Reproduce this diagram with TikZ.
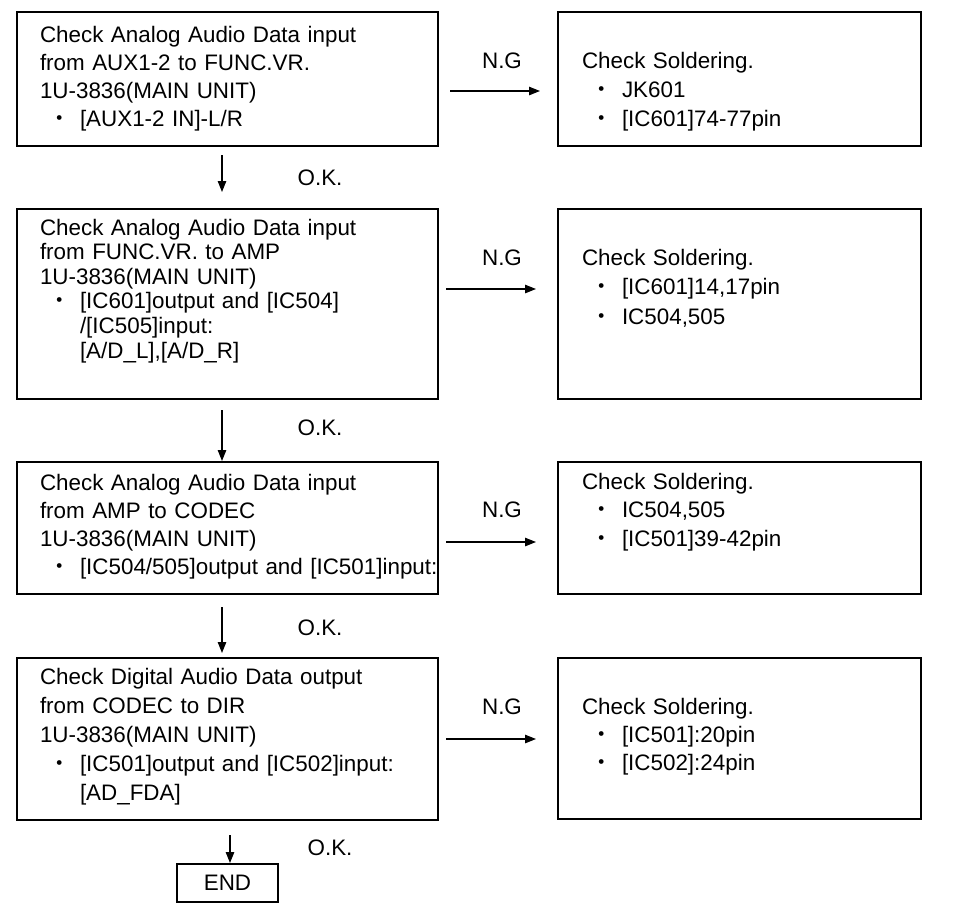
\documentclass[tikz,border=0pt]{standalone}
\usepackage{fontspec}
\setmainfont{Liberation Sans}
\newfontfamily\jpfont{Noto Sans CJK JP}
\usetikzlibrary{arrows.meta}
\newcommand{\lbul}{\makebox[40pt][l]{\hspace*{8pt}{\jpfont ・}}}
\newcommand{\rbul}{\makebox[40pt][l]{\hspace*{8pt}{\jpfont ・}}}
\tikzset{
  box/.style={draw, line width=1.6pt, inner sep=0pt, outer sep=0pt},
  txt/.style={anchor=base west, inner sep=0pt, outer sep=0pt, align=left, text width=#1},
  txt/.default=420pt,
  lbl/.style={inner sep=0pt, font=\fontsize{22.4}{26}\selectfont},
  arr/.style={line width=1.1pt, -{Triangle[length=11pt,width=8.5pt]}},
}
\begin{document}
\begin{tikzpicture}[x=1pt,y=1pt]
\useasboundingbox[fill=white] (0,0) rectangle (953,-911);
% boxes
\node[box, minimum width=421pt, minimum height=134pt] (b1) at (227.5,-79) {};
\node[box, minimum width=363pt, minimum height=134pt] (r1) at (739.5,-79) {};
\node[box, minimum width=421pt, minimum height=190pt] (b2) at (227.5,-304) {};
\node[box, minimum width=363pt, minimum height=190pt] (r2) at (739.5,-304) {};
\node[box, minimum width=421pt, minimum height=132pt] (b3) at (227.5,-528) {};
\node[box, minimum width=363pt, minimum height=132pt] (r3) at (739.5,-528) {};
\node[box, minimum width=421pt, minimum height=162pt] (b4) at (227.5,-739) {};
\node[box, minimum width=363pt, minimum height=161pt] (r4) at (739.5,-738.5) {};
\node[box, minimum width=101pt, minimum height=38pt, font=\fontsize{22.4}{26}\selectfont] (e) at (227.5,-883) {END};
% texts
\node[txt, font=\fontsize{22.4}{28.3}\selectfont] (t1) at (40,-42) {Check Analog Audio Data input\\from AUX1-2 to FUNC.VR.\\1U-3836(MAIN UNIT)\\\lbul[AUX1-2 IN]-L/R};
\node[txt, font=\fontsize{22.4}{24.6}\selectfont] (t2) at (40,-235) {Check Analog Audio Data input\\from FUNC.VR. to AMP\\1U-3836(MAIN UNIT)\\\lbul[IC601]output and [IC504]\\\hspace*{40pt}/[IC505]input:\\\hspace*{40pt}[A/D\_L],[A/D\_R]};
\node[txt, font=\fontsize{22.4}{28.3}\selectfont] (t3) at (40,-490) {Check Analog Audio Data input\\from AMP to CODEC\\1U-3836(MAIN UNIT)\\\lbul[IC504/505]output and [IC501]input:};
\node[txt, font=\fontsize{22.4}{29}\selectfont] (t4) at (40,-684) {Check Digital Audio Data output\\from CODEC to DIR\\1U-3836(MAIN UNIT)\\\lbul[IC501]output and [IC502]input:\\\hspace*{40pt}[AD\_FDA]};
\node[txt=330pt, font=\fontsize{22.4}{29}\selectfont] (s1) at (582,-68) {Check Soldering.\\\rbul JK601\\\rbul[IC601]74-77pin};
\node[txt=330pt, font=\fontsize{22.4}{29.5}\selectfont] (s2) at (582,-265) {Check Soldering.\\\rbul[IC601]14,17pin\\\rbul IC504,505};
\node[txt=330pt, font=\fontsize{22.4}{28.5}\selectfont] (s3) at (582,-489) {Check Soldering.\\\rbul IC504,505\\\rbul[IC501]39-42pin};
\node[txt=330pt, font=\fontsize{22.4}{28}\selectfont] (s4) at (582,-714) {Check Soldering.\\\rbul[IC501]:20pin\\\rbul[IC502]:24pin};
% labels
\node[lbl] (n1) at (502,-61) {N.G};
\node[lbl] (n2) at (502,-258) {N.G};
\node[lbl] (n3) at (502,-510) {N.G};
\node[lbl] (n4) at (502,-707) {N.G};
\node[lbl] (o1) at (320,-178) {O.K.};
\node[lbl] (o2) at (320,-428) {O.K.};
\node[lbl] (o3) at (320,-628) {O.K.};
\node[lbl] (o4) at (330,-848) {O.K.};
% vertical connectors
\draw[arr, shorten <=9pt, shorten >=17pt] ([xshift=-5.5pt]b1.south) -- ([xshift=-5.5pt]b2.north);
\draw[arr, shorten <=11pt, shorten >=1pt] ([xshift=-5.5pt]b2.south) -- ([xshift=-5.5pt]b3.north);
\draw[arr, shorten <=13pt, shorten >=5pt] ([xshift=-5.5pt]b3.south) -- ([xshift=-5.5pt]b4.north);
\draw[arr, shorten <=15pt, shorten >=1pt] ([xshift=2.5pt]b4.south) -- ([xshift=2.5pt]e.north);
% horizontal connectors
\draw[arr, shorten <=12pt, shorten >=18pt] ([yshift=-12pt]b1.east) -- ([yshift=-12pt]r1.west);
\draw[arr, shorten <=8pt, shorten >=22pt] ([yshift=15pt]b2.east) -- ([yshift=15pt]r2.west);
\draw[arr, shorten <=8pt, shorten >=22pt] ([yshift=-14pt]b3.east) -- ([yshift=-14pt]r3.west);
\draw[arr, shorten <=8pt, shorten >=22pt] (b4.east) -- (b4.east -| r4.west);
\end{tikzpicture}
\end{document}
